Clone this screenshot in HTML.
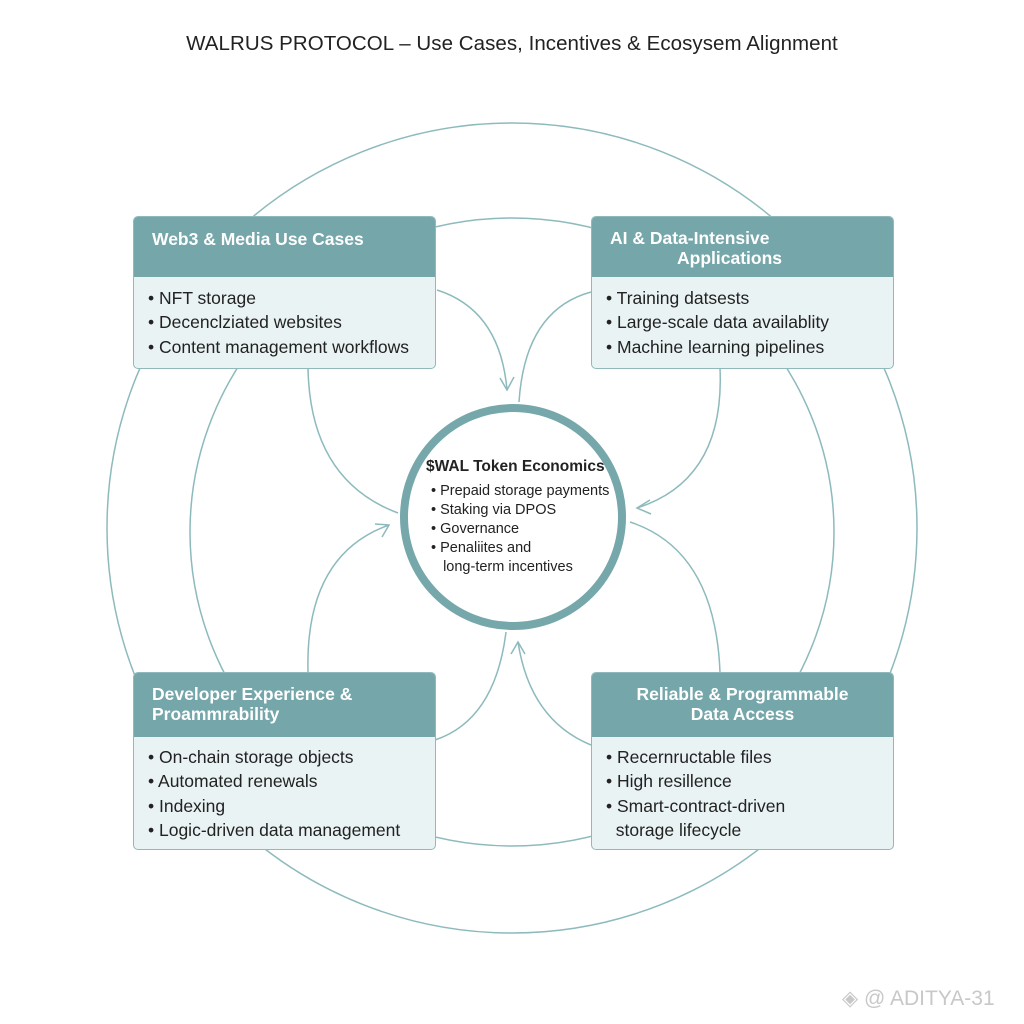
<!DOCTYPE html>
<html><head><meta charset="utf-8"><style>
body{margin:0;background:#fff;width:1024px;height:1024px;position:relative;overflow:hidden;font-family:"Liberation Sans",sans-serif;}
.t{position:absolute;white-space:nowrap;}
.box{position:absolute;border:1.5px solid #8fb9bc;border-radius:5px;background:#eaf3f4;overflow:hidden;box-sizing:border-box;}
.hd{background:#75a6aa;color:#fff;font-weight:bold;font-size:17.5px;line-height:20px;box-sizing:border-box;}
.bd{color:#222;font-size:17.5px;line-height:24.3px;padding-left:14px;padding-top:9px;}
</style></head><body>
<svg width="1024" height="1024" style="position:absolute;left:0;top:0" fill="none" stroke="#8dbabd" stroke-width="1.5">
<circle cx="512" cy="528" r="405"/>
<ellipse cx="512" cy="532" rx="322" ry="314"/>
<path d="M308 368 Q310 480 398 513"/>
<path d="M437 290 Q500 310 507 390"/>
<path d="M500 378 L507 390 L514 377"/>
<path d="M519 402 Q525 310 591 292"/>
<path d="M720 368 Q725 480 637 508"/>
<path d="M650 500 L637 508 L651 514"/>
<path d="M630 522 Q715 550 720 672"/>
<path d="M591 745 Q530 720 518 642"/>
<path d="M511 654 L518 642 L525 654"/>
<path d="M506 632 Q495 720 435 740"/>
<path d="M308 672 Q305 555 389 525"/>
<path d="M375 524 L389 525 L382 537"/>
<circle cx="513" cy="517" r="109" stroke="#76a7ab" stroke-width="8" fill="#fff"/>
</svg>
<div class="t" style="left:0;width:1024px;text-align:center;top:32px;font-size:20.5px;letter-spacing:0.05px;color:#222;">WALRUS PROTOCOL – Use Cases, Incentives &amp; Ecosysem Alignment</div>

<div class="box" style="left:133px;top:216px;width:303px;height:153px;">
<div class="hd" style="height:60px;padding:12px 0 0 18px;">Web3 &amp; Media Use Cases</div>
<div class="bd">• NFT storage<br>• Decenclziated websites<br>• Content management workflows</div></div>

<div class="box" style="left:591px;top:216px;width:303px;height:153px;">
<div class="hd" style="height:60px;padding:11px 0 0 18px;">AI &amp; Data-Intensive<br><span style="padding-left:67px">Applications</span></div>
<div class="bd">• Training datsests<br>• Large-scale data availablity<br>• Machine learning pipelines</div></div>

<div class="box" style="left:133px;top:672px;width:303px;height:178px;">
<div class="hd" style="height:64px;padding:11px 0 0 18px;">Developer Experience &amp;<br>Proammrability</div>
<div class="bd" style="padding-top:8px">• On-chain storage objects<br>• Automated renewals<br>• Indexing<br>• Logic-driven data management</div></div>

<div class="box" style="left:591px;top:672px;width:303px;height:178px;">
<div class="hd" style="height:64px;padding:11px 0 0 0;text-align:center;">Reliable &amp; Programmable<br>Data Access</div>
<div class="bd" style="padding-top:8px">• Recernructable files<br>• High resillence<br>• Smart-contract-driven<br>&nbsp;&nbsp;storage lifecycle</div></div>

<div class="t" style="left:426px;top:458px;font-size:15.5px;font-weight:bold;color:#222;">$WAL Token Economics</div>
<div class="t" style="left:431px;top:482px;font-size:14.5px;line-height:19px;color:#222;">• Prepaid storage payments<br>• Staking via DPOS<br>• Governance<br>• Penaliites and<br>&nbsp;&nbsp;&nbsp;long-term incentives</div>

<div class="t" style="left:842px;top:986px;font-size:21px;color:#c8c8c8;">◈ @ ADITYA-31</div>
</body></html>
